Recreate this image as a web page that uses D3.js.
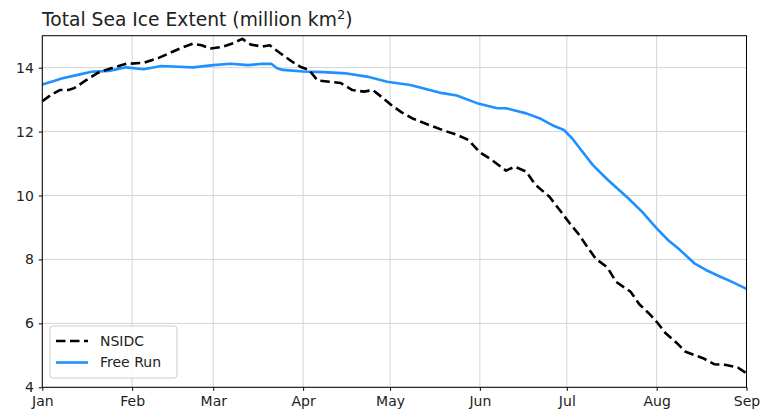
<!DOCTYPE html>
<html>
<head>
<meta charset="utf-8">
<script src="https://d3js.org/d3.v7.min.js"></script>
<style>
  html, body { margin: 0; padding: 0; background: #fff; }
  svg { display: block; font-family: "DejaVu Sans", sans-serif; }
</style>
</head>
<body>
<svg id="chart" width="763" height="416"></svg>
<script>
// Days since Jan 1 and extent (million km²) for each series
const nsidcDays = [0, 3, 6, 9, 11, 15, 19, 24, 29, 35, 40, 44, 48, 52, 55, 58, 62, 66, 69, 72, 76, 78.5, 82, 86, 89, 92, 95, 99, 103, 107, 111, 114, 117, 120, 124, 128, 133, 139, 143, 147, 151, 155, 160, 163, 167, 170, 175, 179, 182, 185, 188, 191, 195, 198, 203, 206, 210, 212, 215, 219, 222, 228, 232, 236, 240, 243];
const nsidcValues = [12.95, 13.15, 13.3, 13.3, 13.36, 13.6, 13.83, 13.99, 14.12, 14.15, 14.3, 14.46, 14.62, 14.75, 14.7, 14.6, 14.65, 14.77, 14.9, 14.72, 14.66, 14.7, 14.46, 14.2, 14.03, 13.93, 13.6, 13.56, 13.52, 13.3, 13.25, 13.3, 13.09, 12.86, 12.6, 12.4, 12.22, 12.02, 11.9, 11.74, 11.35, 11.12, 10.78, 10.9, 10.75, 10.35, 9.96, 9.49, 9.13, 8.8, 8.4, 8.02, 7.75, 7.3, 6.99, 6.6, 6.25, 6.05, 5.7, 5.38, 5.11, 4.91, 4.72, 4.7, 4.62, 4.44];

const freeRunDays = [0, 4, 7, 13, 17, 23, 29, 35, 41, 47, 52, 59, 65, 71, 76, 79, 81, 83, 90, 97, 105, 112, 119, 127, 131, 137, 143, 150, 157, 160, 167, 172, 176, 180, 183, 187, 190, 195, 202, 207, 212, 216, 220, 225, 229, 234, 238, 243];
const freeRunValues = [13.47, 13.58, 13.67, 13.79, 13.87, 13.9, 14.01, 13.95, 14.05, 14.03, 14.01, 14.08, 14.12, 14.08, 14.12, 14.12, 13.98, 13.93, 13.88, 13.86, 13.82, 13.72, 13.56, 13.46, 13.36, 13.22, 13.13, 12.89, 12.73, 12.73, 12.57, 12.4, 12.2, 12.05, 11.77, 11.3, 10.95, 10.5, 9.93, 9.49, 8.97, 8.6, 8.3, 7.88, 7.67, 7.46, 7.3, 7.08];

const monthLabels = ["Jan", "Feb", "Mar", "Apr", "May", "Jun", "Jul", "Aug", "Sep"];
const yTicks = [4, 6, 8, 10, 12, 14];
const seriesNames = ["NSIDC", "Free Run"];

const YEAR = 2001;
const dayToDate = d => new Date(Date.UTC(YEAR, 0, 1) + d * 864e5);

const plot = { left: 42.3, right: 746.5, top: 35.7, bottom: 387.3 };

const x = d3.scaleUtc()
  .domain([new Date(Date.UTC(YEAR, 0, 1)), new Date(Date.UTC(YEAR, 8, 1))])
  .range([plot.left, plot.right]);
const y = d3.scaleLinear().domain([4, 15]).range([plot.bottom, plot.top]);

const monthTicks = d3.utcMonth.range(new Date(Date.UTC(YEAR, 0, 1)), new Date(Date.UTC(YEAR, 8, 2)));

const svg = d3.select("#chart");

// grid
const grid = svg.append("g").attr("stroke", "#d4d4d4").attr("stroke-width", 1);
grid.selectAll("line.gx").data(monthTicks).join("line")
  .attr("x1", d => x(d)).attr("x2", d => x(d))
  .attr("y1", plot.top).attr("y2", plot.bottom);
grid.selectAll("line.gy").data(yTicks).join("line")
  .attr("x1", plot.left).attr("x2", plot.right)
  .attr("y1", d => y(d)).attr("y2", d => y(d));

// series
const line = d3.line().x(d => x(dayToDate(d[0]))).y(d => y(d[1]));
const nsidc = nsidcDays.map((d, i) => [d, nsidcValues[i]]);
const freeRun = freeRunDays.map((d, i) => [d, freeRunValues[i]]);

svg.append("path").datum(freeRun)
  .attr("d", line).attr("fill", "none")
  .attr("stroke", "#1e90ff").attr("stroke-width", 2.6)
  .attr("stroke-linejoin", "round");

svg.append("path").datum(nsidc)
  .attr("d", line).attr("fill", "none")
  .attr("stroke", "#000").attr("stroke-width", 2.6)
  .attr("stroke-dasharray", "9.5,4.5")
  .attr("stroke-linejoin", "round");

// axes
const xAxis = d3.axisBottom(x).tickValues(monthTicks)
  .tickFormat((d, i) => monthLabels[i]).tickSize(3.5).tickPadding(5);
const yAxis = d3.axisLeft(y).tickValues(yTicks).tickSize(3.5).tickPadding(5);

const gx = svg.append("g").attr("transform", `translate(0,${plot.bottom})`).call(xAxis);
const gy = svg.append("g").attr("transform", `translate(${plot.left},0)`).call(yAxis);
[gx, gy].forEach(g => {
  g.select(".domain").remove();
  g.selectAll("line").attr("stroke", "#000").attr("stroke-width", 1);
  g.selectAll("text").attr("font-family", "DejaVu Sans").attr("font-size", 14).attr("fill", "#222");
});

// frame
svg.append("rect")
  .attr("x", plot.left).attr("y", plot.top)
  .attr("width", plot.right - plot.left).attr("height", plot.bottom - plot.top)
  .attr("fill", "none").attr("stroke", "#000").attr("stroke-width", 1);

// title
const title = svg.append("text").attr("x", 42).attr("y", 26)
  .attr("font-size", 18.7).attr("fill", "#222");
title.append("tspan").text("Total Sea Ice Extent (million km");
title.append("tspan").attr("font-size", 13).attr("dy", -7.5).text("2");
title.append("tspan").attr("dy", 7.5).text(")");

// legend
const lg = svg.append("g");
lg.append("rect").attr("x", 50).attr("y", 326).attr("width", 127).attr("height", 52)
  .attr("rx", 3).attr("fill", "#fff").attr("fill-opacity", 0.8)
  .attr("stroke", "#cccccc").attr("stroke-width", 1);
const legendRows = [
  { name: seriesNames[0], color: "#000", dash: "9.5,4.5", cy: 341 },
  { name: seriesNames[1], color: "#1e90ff", dash: null, cy: 362.5 }
];
legendRows.forEach(r => {
  lg.append("line").attr("x1", 56).attr("x2", 88).attr("y1", r.cy).attr("y2", r.cy)
    .attr("stroke", r.color).attr("stroke-width", 2.6)
    .attr("stroke-dasharray", r.dash);
  lg.append("text").attr("x", 100).attr("y", r.cy).attr("dy", "0.35em")
    .attr("font-size", 14).attr("fill", "#222").text(r.name);
});
</script>
</body>
</html>
